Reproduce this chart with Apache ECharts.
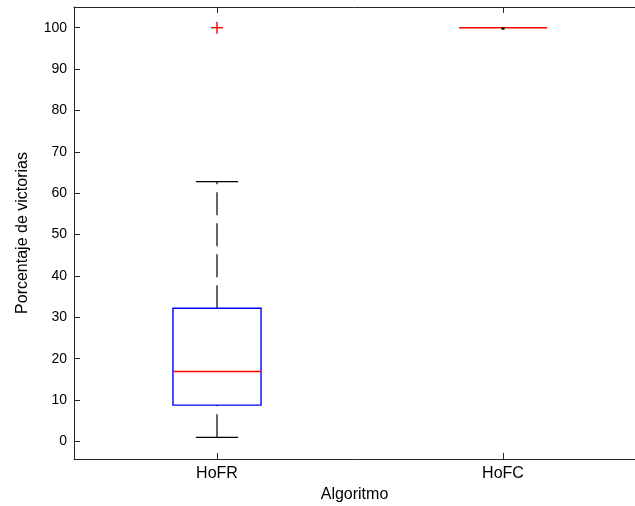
<!DOCTYPE html>
<html>
<head>
<meta charset="utf-8">
<script src="https://cdn.jsdelivr.net/npm/echarts@6/dist/echarts.min.js"></script>
<style>html,body{margin:0;padding:0;background:#fff;}#c{width:635px;height:506px;}</style>
</head>
<body>
<div id="c"></div>
<script>
const categories = ['HoFR', 'HoFC'];
const lowerWhisker = [1, 100];
const q1 = [8.8, 100];
const median = [16.9, 100];
const q3 = [32.2, 100];
const upperWhisker = [62.8, 100];
const outliers = [[1, 100]]; // [category position (1-based), value]
const yTicks = [0, 10, 20, 30, 40, 50, 60, 70, 80, 90, 100];
const xTicks = [1, 2];

const FONT = '"Liberation Sans", Arial, sans-serif';
const boxData = categories.map((c, i) => [i + 1, lowerWhisker[i], q1[i], median[i], q3[i], upperWhisker[i]]);

const chart = echarts.init(document.getElementById('c'), null, {renderer: 'canvas'});
const axisColor = '#262626';
const xMin = 0.5, xMax = 0.5 + 561 / 286;

chart.setOption({
  animation: false,
  backgroundColor: '#fff',
  grid: {left: 74, top: 7, right: 0, bottom: 47, containLabel: false, outerBoundsMode: 'none'},
  xAxis: [{
    type: 'value', min: xMin, max: xMax, position: 'bottom',
    axisLine: {show: true, onZero: false, lineStyle: {color: axisColor, width: 1}},
    axisTick: {show: true, inside: true, length: 6, customValues: xTicks, lineStyle: {color: axisColor}},
    axisLabel: {color: '#000', fontFamily: FONT, fontSize: 16, margin: 7, customValues: xTicks,
      formatter: v => categories[Math.round(v) - 1]},
    name: 'Algoritmo', nameLocation: 'middle', nameGap: 28,
    nameTextStyle: {color: '#000', fontFamily: FONT, fontSize: 16},
    splitLine: {show: false}
  }, {
    type: 'value', min: xMin, max: xMax, position: 'top',
    axisLine: {show: true, onZero: false, lineStyle: {color: axisColor, width: 1}},
    axisTick: {show: true, inside: true, length: 6, customValues: xTicks, lineStyle: {color: axisColor}},
    axisLabel: {show: false}, splitLine: {show: false}
  }],
  yAxis: [{
    type: 'value', min: -4.23, max: 105, position: 'left',
    axisLine: {show: true, onZero: false, lineStyle: {color: axisColor, width: 1}},
    axisTick: {show: true, inside: true, length: 6, customValues: yTicks, lineStyle: {color: axisColor}},
    axisLabel: {color: '#000', fontFamily: FONT, fontSize: 14, margin: 7, customValues: yTicks},
    splitLine: {show: false},
    name: 'Porcentaje de victorias', nameLocation: 'middle', nameGap: 43, nameRotate: 90,
    nameTextStyle: {color: '#000', fontFamily: FONT, fontSize: 16}
  }],
  series: [{
    type: 'custom',
    xAxisIndex: 0, yAxisIndex: 0,
    data: boxData,
    encode: {x: 0, y: [1, 2, 3, 4, 5]},
    renderItem: function (params, api) {
      const xv = api.value(0);
      const half = api.size([0.154, 0])[0];
      const capHalf = half * 0.48;
      const cx = api.coord([xv, 0])[0];
      const y = k => api.coord([xv, api.value(k)])[1];
      const yl = y(1), yq1 = y(2), ym = y(3), yq3 = y(4), yu = y(5);
      const children = [];
      const dash = {stroke: '#000', lineWidth: 1.2, lineDash: [23, 8], lineCap: 'butt'};
      const spread = Math.abs(yq1 - yl) > 0.5 || Math.abs(yu - yq3) > 0.5;
      if (Math.abs(yq1 - yl) > 0.5) children.push({type: 'line', shape: {x1: cx, y1: yl, x2: cx, y2: yq1}, style: dash});
      if (Math.abs(yu - yq3) > 0.5) children.push({type: 'line', shape: {x1: cx, y1: yq3, x2: cx, y2: yu}, style: dash});
      if (spread) {
        children.push({type: 'line', shape: {x1: cx - capHalf, y1: yl, x2: cx + capHalf, y2: yl}, style: {stroke: '#000', lineWidth: 1.4}});
        children.push({type: 'line', shape: {x1: cx - capHalf, y1: yu, x2: cx + capHalf, y2: yu}, style: {stroke: '#000', lineWidth: 1.4}});
      }
      if (Math.abs(yq1 - yq3) > 0.5) {
        children.push({type: 'rect', shape: {x: cx - half, y: yq3, width: 2 * half, height: yq1 - yq3},
          style: {fill: 'none', stroke: '#0000ff', lineWidth: 1.4}});
      }
      children.push({type: 'line', shape: {x1: cx - half, y1: ym, x2: cx + half, y2: ym},
        style: {stroke: '#ff0000', lineWidth: 1.5}});
      if (!spread) {
        children.push({type: 'rect', shape: {x: cx - 1.5, y: ym - 0.5, width: 3, height: 2.5}, style: {fill: '#000'}});
      }
      return {type: 'group', children: children};
    }
  }, {
    type: 'custom',
    xAxisIndex: 0, yAxisIndex: 0,
    data: outliers,
    encode: {x: 0, y: 1},
    renderItem: function (params, api) {
      const p = api.coord([api.value(0), api.value(1)]);
      const s = 6;
      return {type: 'group', children: [
        {type: 'line', shape: {x1: p[0] - s, y1: p[1], x2: p[0] + s, y2: p[1]}, style: {stroke: '#ff0000', lineWidth: 1.4}},
        {type: 'line', shape: {x1: p[0], y1: p[1] - s, x2: p[0], y2: p[1] + s}, style: {stroke: '#ff0000', lineWidth: 1.4}}
      ]};
    }
  }]
});
</script>
</body>
</html>
